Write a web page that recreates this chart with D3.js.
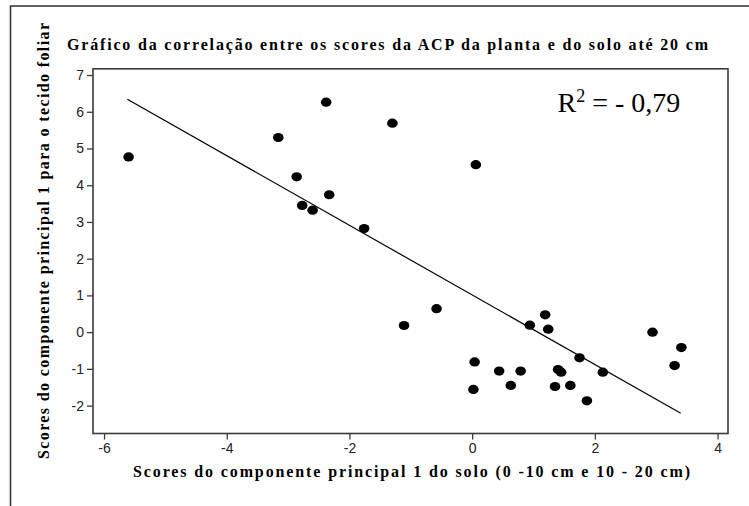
<!DOCTYPE html>
<html>
<head>
<meta charset="utf-8">
<script src="https://d3js.org/d3.v7.min.js"></script>
<style>
  body { margin: 0; background: white; }
</style>
</head>
<body>
<script>
(function() {

  // scores of principal component 1 (soil, x) and leaf tissue (y)
  const soloScores = [-5.60, -3.16, -2.38, -2.86, -2.33, -2.77, -2.60, -1.30, 0.06, -1.76,
    -0.58, -1.11, 0.04, 0.02, 0.44, 0.79, 0.63, 0.94, 1.19, 1.24,
    1.40, 1.45, 1.35, 1.60, 1.75, 1.87, 2.13, 2.94, 3.41, 3.30];
  const folhaScores = [4.77, 5.30, 6.26, 4.23, 3.74, 3.45, 3.32, 5.69, 4.56, 2.82,
    0.64, 0.18, -0.81, -1.56, -1.06, -1.06, -1.45, 0.19, 0.47, 0.08,
    -1.02, -1.09, -1.48, -1.45, -0.70, -1.87, -1.09, 0.00, -0.42, -0.91];

  // fitted line end points
  const lineX = [-5.62, 3.40];
  const lineY = [6.34, -2.21];

  const xTicks = [-6, -4, -2, 0, 2, 4];
  const yTicks = [-2, -1, 0, 1, 2, 3, 4, 5, 6, 7];

  const titleText = "Gráfico da correlação entre os scores da ACP da planta e do solo até 20 cm";
  const xLabel = "Scores do componente principal 1 do solo (0 -10 cm e 10 - 20 cm)";
  const yLabel = "Scores do componente principal 1 para o tecido foliar";
  const r2Value = "= - 0,79";

  const serif = "Liberation Serif, Times New Roman, Times, serif";

  let svgContainer = "";

  window.onload = function() {
    svgContainer = d3.select('body').append('svg')
      .attr('width', 749)
      .attr('height', 506)
      .style("background", "white")
      .style("display", "block");

    // outer frame, cut off at right and bottom
    svgContainer.append('rect')
      .attr('x', 10.5)
      .attr('y', 6)
      .attr('width', 800)
      .attr('height', 600)
      .attr('fill', 'none')
      .attr('stroke', '#3a3a3a')
      .attr('stroke-width', 1.6);

    let map = drawAxes();
    plotData(map);
    drawLabels(map);
  }

  // draw box, axes and ticks
  function drawAxes() {
    let xScale = d3.scaleLinear()
      .domain([-6.18, 4.17])
      .range([93, 728]);

    let yScale = d3.scaleLinear()
      .domain([-2.76, 7.17])
      .range([433.5, 68.8]);

    svgContainer.append('rect')
      .attr('x', 93)
      .attr('y', 68.8)
      .attr('width', 635)
      .attr('height', 364.7)
      .attr('fill', 'none')
      .attr('stroke', '#3a3a3a')
      .attr('stroke-width', 1.6);

    let xAxis = d3.axisBottom(xScale)
      .tickValues(xTicks)
      .tickSize(6)
      .tickPadding(4)
      .tickSizeOuter(0)
      .tickFormat((d) => String(d));

    let gx = svgContainer.append('g')
      .attr('transform', 'translate(0, 433.5)')
      .call(xAxis);

    let yAxis = d3.axisLeft(yScale)
      .tickValues(yTicks)
      .tickSize(6)
      .tickPadding(3)
      .tickSizeOuter(0)
      .tickFormat((d) => String(d));

    let gy = svgContainer.append('g')
      .attr('transform', 'translate(93, 0)')
      .call(yAxis);

    // style both axes like the original
    [gx, gy].forEach(function(g) {
      g.select('.domain').remove();
      g.selectAll('line').attr('stroke', '#3a3a3a').attr('stroke-width', 1.3);
      g.selectAll('text')
        .attr('fill', '#222')
        .attr('font-family', 'Liberation Sans Narrow, Liberation Sans, Arial, sans-serif')
        .attr('font-size', 14);
    });

    return { x: xScale, y: yScale };
  }

  // scatter points and the regression line
  function plotData(map) {
    let line = d3.line()
      .x((d) => map.x(d[0]))
      .y((d) => map.y(d[1]));

    svgContainer.append('path')
      .datum(d3.zip(lineX, lineY))
      .attr('d', line)
      .attr('fill', 'none')
      .attr('stroke', 'black')
      .attr('stroke-width', 1.2);

    svgContainer.selectAll('.dot')
      .data(d3.zip(soloScores, folhaScores))
      .enter()
      .append('ellipse')
        .attr('class', 'dot')
        .attr('cx', (d) => map.x(d[0]))
        .attr('cy', (d) => map.y(d[1]))
        .attr('rx', 5.3)
        .attr('ry', 4.6)
        .attr('fill', 'black');
  }

  // title, axis titles and R2 note
  function drawLabels(map) {
    svgContainer.append('text')
      .attr('x', 67)
      .attr('y', 50)
      .attr('textLength', 641)
      .attr('lengthAdjust', 'spacing')
      .attr('font-family', serif)
      .attr('font-size', 16)
      .attr('font-weight', 700)
      .text(titleText);

    svgContainer.append('text')
      .attr('x', 133)
      .attr('y', 477)
      .attr('textLength', 557)
      .attr('lengthAdjust', 'spacing')
      .attr('font-family', serif)
      .attr('font-size', 16)
      .attr('font-weight', 700)
      .text(xLabel);

    svgContainer.append('text')
      .attr('transform', 'translate(49, 459)rotate(-90)')
      .attr('textLength', 436)
      .attr('lengthAdjust', 'spacing')
      .attr('font-family', serif)
      .attr('font-size', 16)
      .attr('font-weight', 700)
      .text(yLabel);

    let r2 = svgContainer.append('text')
      .attr('x', map.x(1.39))
      .attr('y', map.y(5.99))
      .attr('font-family', serif)
      .attr('font-size', 28);
    r2.append('tspan').text('R');
    r2.append('tspan')
      .attr('dy', -10)
      .attr('font-size', 18)
      .text('2');
    r2.append('tspan')
      .attr('dy', 10)
      .text(' ' + r2Value);
  }
})();
</script>
</body>
</html>
